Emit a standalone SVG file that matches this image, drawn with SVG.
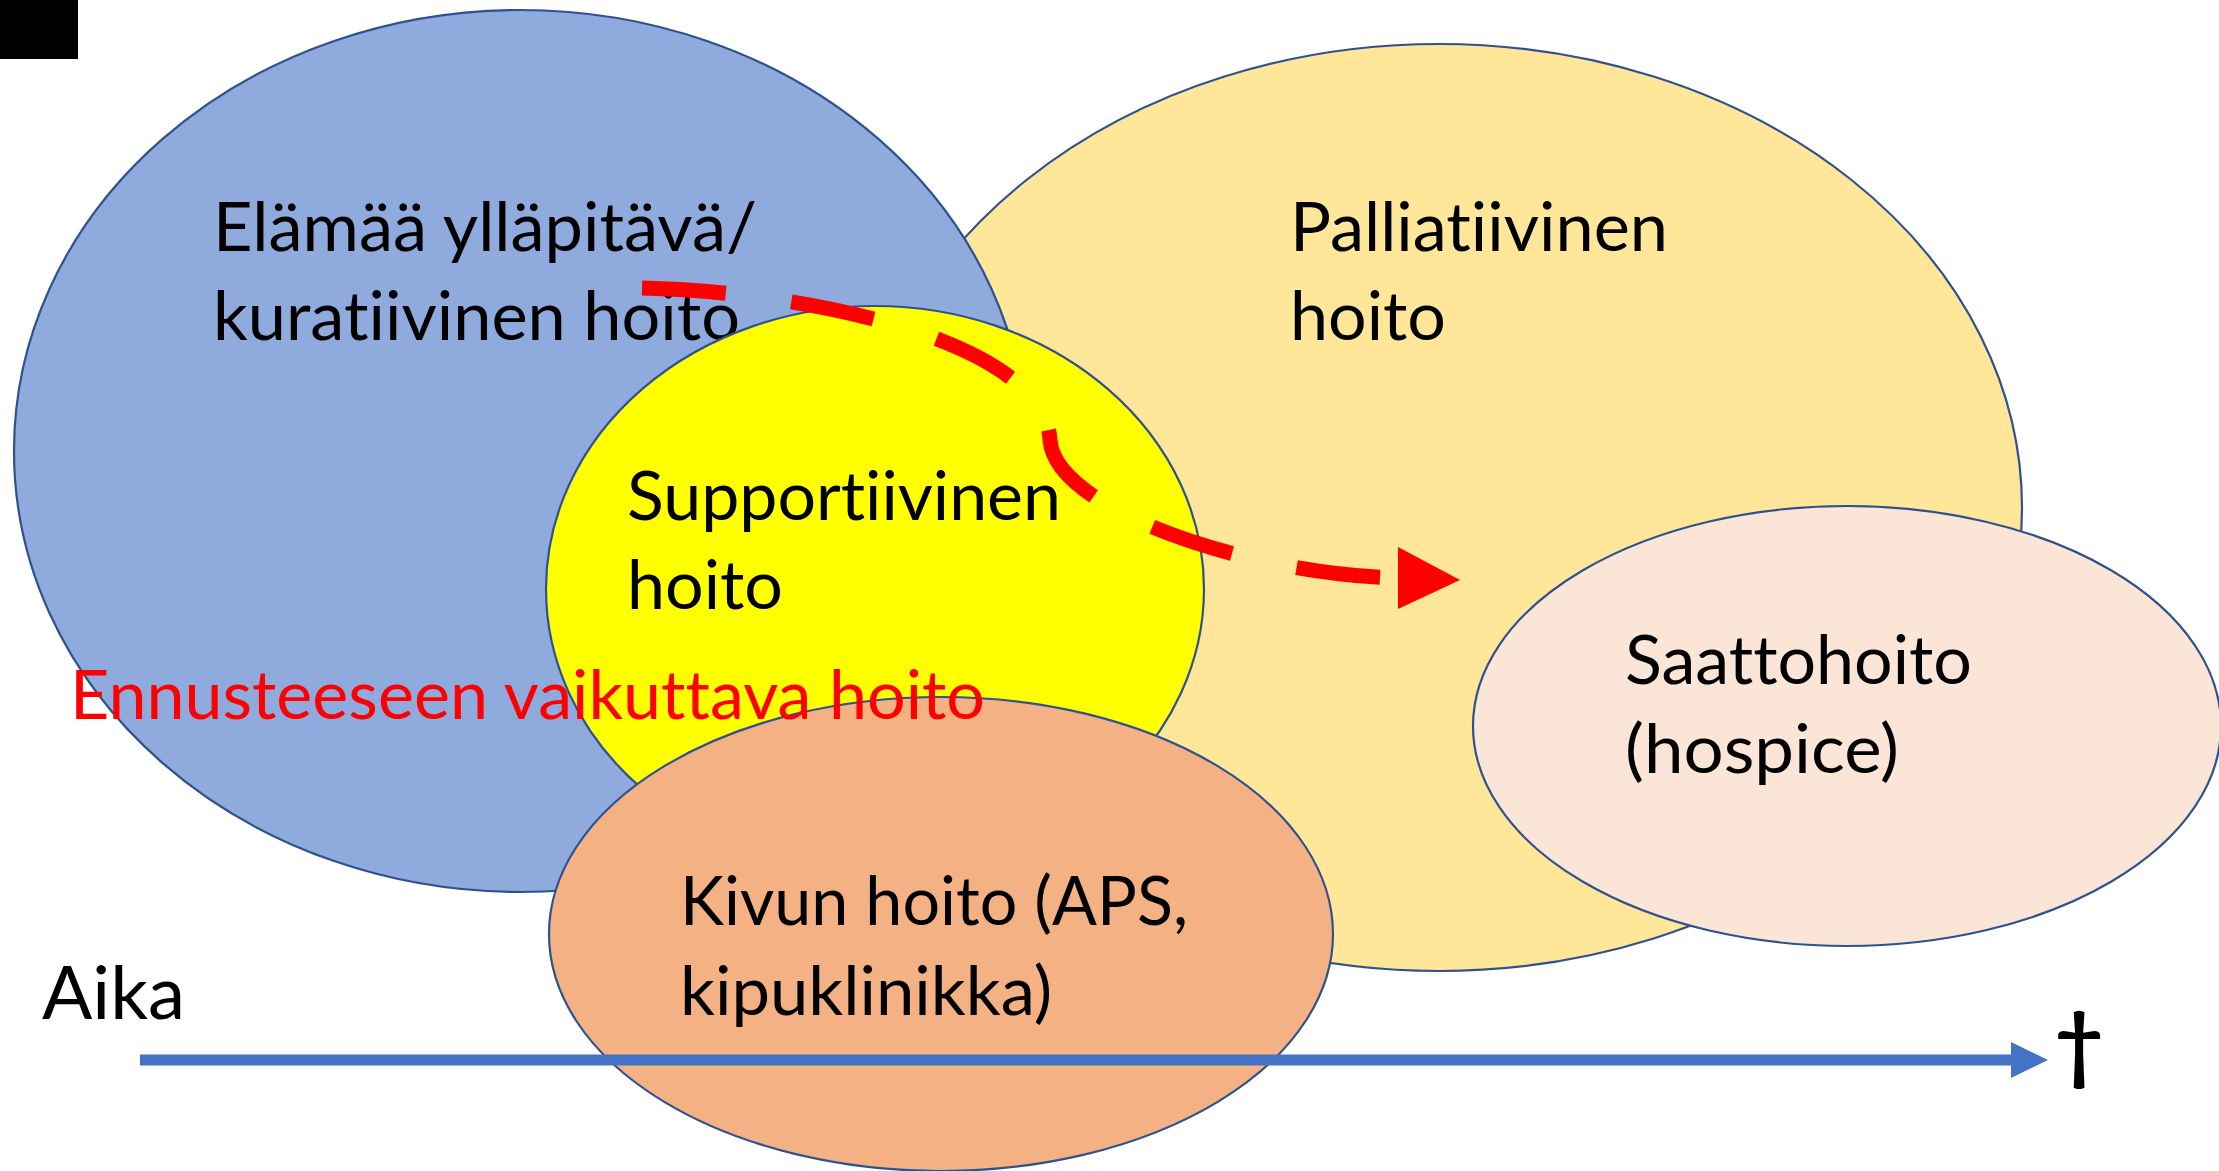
<svg xmlns="http://www.w3.org/2000/svg" width="2219" height="1171" viewBox="0 0 2219 1171">
<defs>
<style>
.bub{stroke:#2F528F;stroke-width:2.2}
.t{font-family:Lato,"Open Sans","Liberation Sans",sans-serif;font-size:67px;fill:#000000;font-variant-ligatures:none;font-feature-settings:"liga" 0,"clig" 0,"dlig" 0}
.red{fill:#FF0000}
.dash{fill:none;stroke:#FF0000;stroke-width:15;stroke-dasharray:84 66}
</style>
</defs>
<rect x="0" y="0" width="2219" height="1171" fill="#FFFFFF"/>
<rect x="0" y="0" width="78" height="59" fill="#000000"/>
<g id="node-palliative">
<ellipse class="bub" cx="1439" cy="507.5" rx="583" ry="463.5" fill="#FFE699"/>
<text class="t" x="1290" y="251" textLength="378" lengthAdjust="spacingAndGlyphs">Palliatiivinen</text>
<text class="t" x="1290" y="340" textLength="156" lengthAdjust="spacingAndGlyphs">hoito</text>
</g>
<g id="node-curative">
<ellipse class="bub" cx="520.5" cy="451" rx="506.5" ry="441" fill="#8FAADC"/>
<text class="t" x="213" y="251" textLength="544" lengthAdjust="spacingAndGlyphs">Elämää ylläpitävä/</text>
<text class="t" x="213" y="340" textLength="527" lengthAdjust="spacingAndGlyphs">kuratiivinen hoito</text>
</g>
<g id="node-supportive">
<ellipse class="bub" cx="875" cy="589" rx="329" ry="283" fill="#FFFF00"/>
<text class="t" x="627" y="520" textLength="434" lengthAdjust="spacingAndGlyphs">Supportiivinen</text>
<text class="t" x="627" y="609" textLength="156" lengthAdjust="spacingAndGlyphs">hoito</text>
</g>
<g id="node-pain">
<ellipse class="bub" cx="941" cy="934" rx="392" ry="237" fill="#F4B183"/>
<text class="t" x="680" y="925" textLength="508" lengthAdjust="spacingAndGlyphs">Kivun hoito (APS,</text>
<text class="t" x="680" y="1015" textLength="372" lengthAdjust="spacingAndGlyphs">kipuklinikka)</text>
</g>
<g id="node-hospice">
<ellipse class="bub" cx="1847" cy="726" rx="374" ry="220" fill="#FBE5D6"/>
<text class="t" x="1625" y="684" textLength="347" lengthAdjust="spacingAndGlyphs">Saattohoito</text>
<text class="t" x="1625" y="773" textLength="274" lengthAdjust="spacingAndGlyphs">(hospice)</text>
</g>
<g id="label-prognosis">
<text class="t red" x="70" y="719" textLength="915" lengthAdjust="spacingAndGlyphs">Ennusteeseen vaikuttava hoito</text>
</g>
<g id="connectors">
<path class="dash" d="M 642 288 C 820 292, 1045 345, 1050 440 C 1055 510, 1250 575, 1400 578"/>
<polygon points="1398,547 1460,580 1398,609" fill="#FF0000"/>
</g>
<g id="timeline">
<line x1="140" y1="1060" x2="2014" y2="1060" stroke="#4472C4" stroke-width="11"/>
<polygon points="2011,1042 2048,1060 2011,1078" fill="#4472C4"/>
<text class="t" x="42" y="1019" style="font-size:74px" textLength="143" lengthAdjust="spacingAndGlyphs">Aika</text>
<text class="t" x="2079" y="1074" style="font-size:84px;font-weight:700" text-anchor="middle">†</text>
</g>
</svg>
